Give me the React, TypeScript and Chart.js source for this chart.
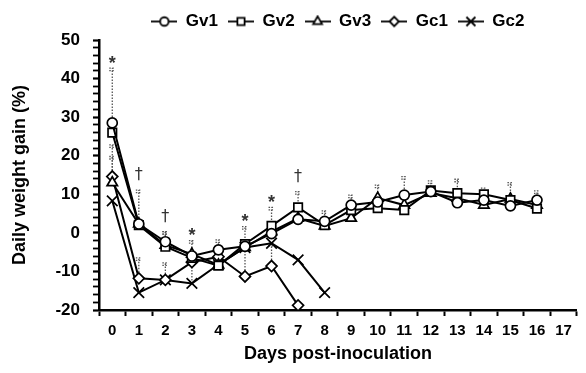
import React, { useEffect, useRef } from 'react';
import { Chart, registerables } from 'chart.js';
import { drawPoint } from 'chart.js/helpers';

Chart.register(...registerables);

// ---- data ----
const dayLabels = ['0', '1', '2', '3', '4', '5', '6', '7', '8', '9', '10', '11', '12', '13', '14', '15', '16', '17'];
const seriesNames = ['Gv1', 'Gv2', 'Gv3', 'Gc1', 'Gc2'];

const gv1 = [28.5, 2.3, -2.3, -6.0, -4.4, -3.5, -0.2, 3.5, 3.0, 7.2, 8.0, 9.8, 10.7, 7.8, 8.5, 7.0, 8.5];
const gv2 = [26.0, 2.0, -3.6, -6.5, -8.5, -2.9, 1.8, 6.6, 2.0, 5.9, 6.4, 5.9, 11.0, 10.3, 10.0, 8.5, 6.3];
const gv3 = [13.0, 2.3, -3.2, -5.5, -8.3, -3.8, 0.3, 3.8, 1.8, 3.8, 9.0, 7.2, 10.3, 9.0, 7.2, 8.8, 7.2];
const gc1 = [14.6, -11.8, -12.2, -7.6, -6.2, -11.3, -8.6, -18.8];
const gc2 = [8.3, -15.5, -12.2, -13.1, -8.2, -3.8, -2.7, -7.0, -15.5];

// upward error (SD) per point
const gv1Err = [14.2, 8.8, 2.6, 0, 2.6, 0, 0, 0, 2.7, 2.6, 0, 4.8, 0, 0, 0, 0, 2.4];
const gv2Err = [0, 0, 0, 0, 0, 4.5, 4.8, 4.1, 0, 0, 0, 0, 0, 3.6, 1.6, 4.5, 0];
const gv3Err = [6.8, 0, 3.5, 3.5, 0, 0, 0, 0, 0, 0, 3.4, 0, 3.2, 0, 0, 0, 0];
const gc1Err = [8.2, 5.3, 4.4, 0, 0, 8.0, 5.9, 0];
const gc2Err = [0, 0, 0, 5.5, 0, 0, 0, 0, 0];

// significance marks
const annotDays = [0, 1, 2, 3, 5, 6, 7];
const annotValues = [44.8, 15.0, 4.2, 0.3, 3.8, 8.7, 14.6];
const annotSymbols = ['*', '†', '†', '*', '*', '*', '†'];

const yMin = -20;
const yMax = 50;

const seriesValues = [gv1, gv2, gv3, gc1, gc2];
const seriesErrors = [gv1Err, gv2Err, gv3Err, gc1Err, gc2Err];
const pointStyles = ['circle', 'rect', 'triangle', 'rectRot', 'crossRot'];
const pointRadii = [5, 6, 6, 5.5, 7.5];

const FONT = "'Liberation Sans', Arial, sans-serif";

function legendIcon(style: string, radius: number) {
  const c = document.createElement('canvas');
  c.width = 26;
  c.height = 14;
  const ctx = c.getContext('2d') as CanvasRenderingContext2D;
  ctx.strokeStyle = '#000';
  ctx.lineWidth = 1.8;
  ctx.beginPath();
  ctx.moveTo(0, 7);
  ctx.lineTo(26, 7);
  ctx.stroke();
  ctx.fillStyle = '#fff';
  drawPoint(ctx, { pointStyle: style as any, radius: radius * 0.85, rotation: 0, borderWidth: 1.6 } as any, 13, 7);
  return c;
}

const errorBarPlugin = {
  id: 'errorBars',
  beforeDatasetsDraw(chart: any) {
    const ctx = chart.ctx;
    const y = chart.scales.y;
    ctx.save();
    ctx.strokeStyle = '#555';
    ctx.lineWidth = 1.3;
    ctx.setLineDash([1.5, 1.5]);
    chart.data.datasets.forEach((ds: any, di: number) => {
      const meta = chart.getDatasetMeta(di);
      const errs = ds.errors || [];
      meta.data.forEach((pt: any, i: number) => {
        const e = errs[i];
        const v = ds.data[i];
        if (!e || v == null) return;
        const y0 = y.getPixelForValue(v);
        const y1 = y.getPixelForValue(v + e);
        ctx.beginPath();
        ctx.moveTo(pt.x, y0);
        ctx.lineTo(pt.x, y1);
        ctx.moveTo(pt.x - 3, y1);
        ctx.lineTo(pt.x + 3, y1);
        ctx.moveTo(pt.x - 3, y1 + 2.5);
        ctx.lineTo(pt.x + 3, y1 + 2.5);
        ctx.stroke();
      });
    });
    ctx.restore();
  },
};

const annotPlugin = {
  id: 'annots',
  afterDatasetsDraw(chart: any) {
    const ctx = chart.ctx;
    const x = chart.scales.x;
    const y = chart.scales.y;
    ctx.save();
    ctx.fillStyle = '#333';
    ctx.textAlign = 'center';
    ctx.textBaseline = 'middle';
    annotDays.forEach((d, i) => {
      const sym = annotSymbols[i];
      ctx.font = sym === '*' ? `bold 18px ${FONT}` : `16px 'DejaVu Sans', sans-serif`;
      const off = sym === '*' ? 4 : 0;
      ctx.fillText(sym, x.getPixelForValue(d), y.getPixelForValue(annotValues[i]) + off);
    });
    ctx.restore();
  },
};

export default function App() {
  const ref = useRef<HTMLCanvasElement>(null);
  useEffect(() => {
    if (!ref.current) return;
    const icons = pointStyles.map((s, i) => legendIcon(s, pointRadii[i]));
    const chart = new Chart(ref.current, {
      type: 'line',
      data: {
        labels: dayLabels,
        datasets: seriesNames.map((name, i) => ({
          label: name,
          data: seriesValues[i],
          errors: seriesErrors[i],
          borderColor: '#000',
          borderWidth: 2,
          pointStyle: pointStyles[i] as any,
          pointRadius: pointRadii[i],
          pointBackgroundColor: '#fff',
          pointBorderColor: '#000',
          pointBorderWidth: 1.7,
          fill: false,
          tension: 0,
        })) as any,
      },
      options: {
        responsive: false,
        animation: false,
        layout: { padding: { top: 3, right: 6, left: 0, bottom: 0 } },
        plugins: {
          tooltip: { enabled: false },
          legend: {
            display: true,
            position: 'top',
            fullSize: false,
            labels: {
              usePointStyle: true,
              pointStyleWidth: 26,
              padding: 10,
              color: '#000',
              font: { family: FONT, size: 17, weight: 'bold' },
              generateLabels: (c: any) => {
                const items = Chart.defaults.plugins.legend.labels.generateLabels(c);
                return items.map((it: any, i: number) => ({ ...it, pointStyle: icons[i] }));
              },
            },
          },
        },
        scales: {
          x: {
            type: 'category',
            offset: true,
            grid: {
              offset: true,
              drawOnChartArea: false,
              drawTicks: true,
              tickLength: 6,
              tickWidth: 2,
              tickColor: '#000',
            },
            border: { color: '#000', width: 2.5 },
            ticks: {
              color: '#000',
              font: { family: FONT, size: 15, weight: 'bold' },
              padding: 6,
              maxRotation: 0,
              autoSkip: false,
            },
            title: {
              display: true,
              text: 'Days post-inoculation',
              color: '#000',
              font: { family: FONT, size: 18, weight: 'bold' },
              padding: { top: 0, bottom: 8 },
            },
            afterFit: (s: any) => {
              s.height = 63;
            },
          },
          y: {
            min: yMin,
            max: yMax,
            grid: {
              drawOnChartArea: false,
              drawTicks: true,
              tickLength: 6,
              tickColor: '#000',
              tickWidth: (c: any) => (c.tick && c.tick.value % 10 === 0 ? 2.2 : 1.8),
            },
            border: { color: '#000', width: 2.5 },
            ticks: {
              stepSize: 2,
              autoSkip: false,
              color: '#000',
              padding: 13,
              font: { family: FONT, size: 17, weight: 'bold' },
              callback: (v: any) => (Number(v) % 10 === 0 ? String(v) : ''),
            },
            title: {
              display: true,
              text: 'Daily weight gain (%)',
              color: '#000',
              font: { family: FONT, size: 18, weight: 'bold' },
              padding: { top: 9, bottom: 0 },
            },
            afterFit: (s: any) => {
              s.width = 99;
            },
          },
        },
      },
      plugins: [errorBarPlugin, annotPlugin],
    } as any);
    return () => chart.destroy();
  }, []);
  return (
    <div style={{ position: 'fixed', left: 0, top: 0, width: 586, height: 373, background: '#fff' }}>
      <canvas ref={ref} width={586} height={373} />
    </div>
  );
}
